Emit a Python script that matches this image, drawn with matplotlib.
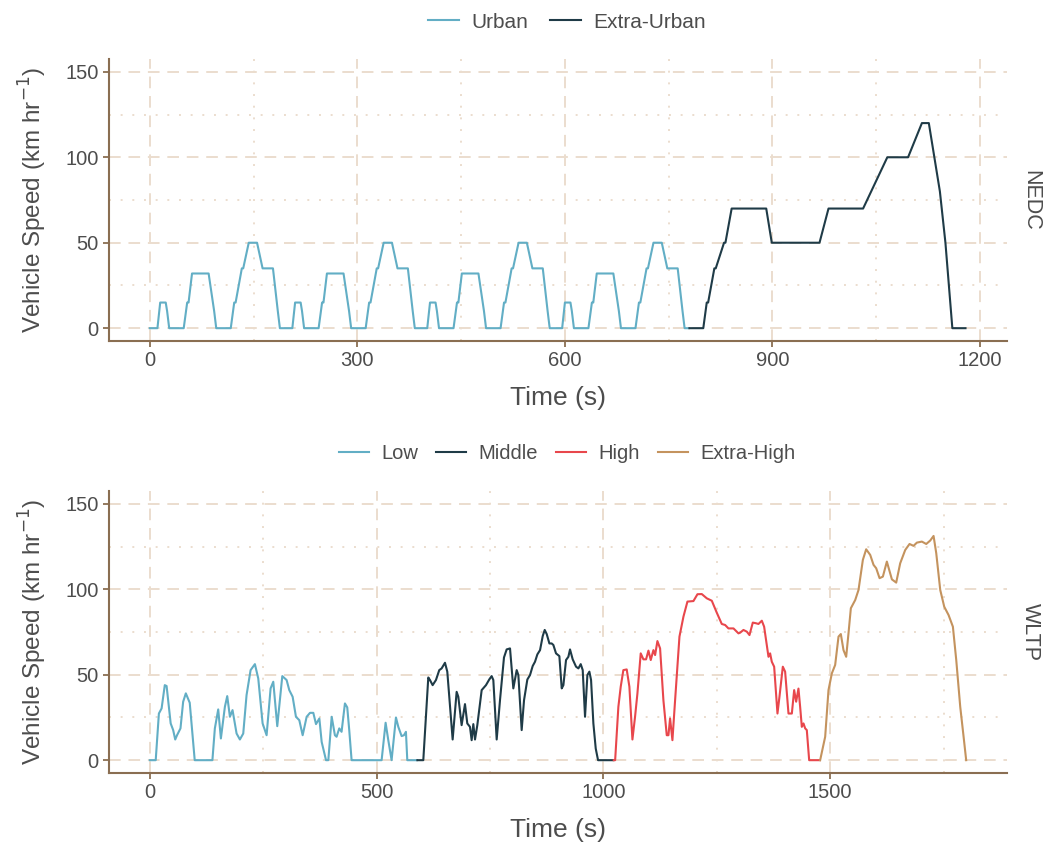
import matplotlib
matplotlib.use("Agg")
import matplotlib.pyplot as plt
from matplotlib.lines import Line2D

plt.rcParams['font.family'] = ['Liberation Sans', 'DejaVu Sans']

# ---------------- NEDC data ----------------
urban_time = [0, 11, 15, 23, 25, 28, 49, 54, 56, 61, 85, 93, 96, 117, 122, 124, 133, 135, 143, 155, 163, 178, 185, 188,
              195, 206, 210, 218, 220, 223, 244, 249, 251, 256, 280, 288, 291, 312, 317, 319, 328, 330, 338, 350, 358, 373, 380, 383,
              390, 401, 405, 413, 415, 418, 439, 444, 446, 451, 475, 483, 486, 507, 512, 514, 523, 525, 533, 545, 553, 568, 575, 578,
              585, 596, 600, 608, 610, 613, 634, 639, 641, 646, 670, 678, 681, 702, 707, 709, 718, 720, 728, 740, 748, 763, 770, 773, 779]
urban_speed = [0, 0, 15, 15, 10, 0, 0, 15, 15, 32, 32, 10, 0, 0, 15, 15, 35, 35, 50, 50, 35, 35, 10, 0,
               0, 0, 15, 15, 10, 0, 0, 15, 15, 32, 32, 10, 0, 0, 15, 15, 35, 35, 50, 50, 35, 35, 10, 0,
               0, 0, 15, 15, 10, 0, 0, 15, 15, 32, 32, 10, 0, 0, 15, 15, 35, 35, 50, 50, 35, 35, 10, 0,
               0, 0, 15, 15, 10, 0, 0, 15, 15, 32, 32, 10, 0, 0, 15, 15, 35, 35, 50, 50, 35, 35, 10, 0, 0]

extra_urban_time = [780, 800, 805, 807, 816, 818, 830, 832, 841, 891, 899, 968, 981, 1031, 1066, 1096, 1116, 1126,
                    1142, 1150, 1160, 1179]
extra_urban_speed = [0, 0, 15, 15, 35, 35, 50, 50, 70, 70, 50, 50, 70, 70, 100, 100, 120, 120,
                     80, 50, 0, 0]

# ---------------- WLTP data ----------------
low_time = [0, 13, 20, 26, 33, 37, 46, 51.5, 56, 60, 67.6, 73.5, 79.4, 88, 99, 138, 143.4, 150.8, 156.7, 165.5,
            170.7, 176.6, 182.4, 191.3, 198.6, 206, 213.3, 222.2, 231.7, 239.1, 248.7, 257.5, 266.3, 272.2, 281,
            292.1, 301.6, 307.5, 314.9, 322.2, 329.6, 337, 345.8, 353.2, 360.5, 366.4, 373.8, 378.9, 388.5, 393.6,
            401, 408.1, 411.8, 417.7, 422.8, 430.2, 435.3, 439.7, 444.9, 511.1, 519.9, 525.8, 533.1, 542.7, 547.9,
            555.2, 560.3, 564.7, 567.7, 589]
low_speed = [0, 0, 27.3, 30.3, 43.9, 43.4, 21.5, 17.6, 12.1, 14.6, 18.6, 34.2, 39.1, 33.6, 0, 0, 18.6, 29.7, 12.7, 31.2,
             37.5, 25.4, 29.3, 15.6, 12.1, 15.6, 38.1, 52.7, 56.2, 47.8, 21.5, 14.6, 42, 45.9, 19.9,
             49.2, 46.9, 41, 37.1, 25.4, 23.4, 14.6, 25.4, 27.7, 27.7, 21.1, 24.4, 10.7, 0, 0,
             25.4, 14.6, 13.7, 18.6, 16.6, 33.2, 30.9, 17.6, 0, 0, 21.9, 11.7, 0, 25, 19.5,
             14.1, 14.6, 16.6, 0, 0]

middle_time = [590, 603, 614, 617.7, 623.6, 630.9, 638.2, 643.4, 650.8, 655.9, 667.7, 676.5, 680.2, 687.5, 694.9,
               700, 705.9, 709.6, 713.3, 717, 722.1, 731.7, 741.2, 748.6, 753.7, 757.4, 764.8, 772.1, 780.9, 786.8,
               794.2, 801.5, 808.9, 812.6, 819.9, 825.1, 832.4, 838.3, 844.2, 849.3, 854.5, 860.4, 866.3, 870.7,
               875.1, 881, 886.1, 889.8, 895.6, 903, 908.2, 911.9, 917.7, 922.9, 926.5, 932.4, 939.8, 945, 950.1,
               954.5, 959.6, 964.8, 969.2, 972.9, 978, 983.2, 988.3, 1022]
middle_speed = [0, 0, 48.4, 46.9, 43.9, 46.9, 52.7, 53.7, 57, 51.8, 12.1, 40, 37.1, 20.5, 32.8,
                21.5, 19.5, 11.7, 21.1, 12.1, 20.5, 41, 43.9, 47.3, 49.2, 46.9, 12.1, 35.1, 60.1, 64.8,
                65.4, 42, 52.7, 49.8, 17.6, 35.1, 47.2, 49.8, 55.1, 57.6, 61.9, 64.4, 72.6, 76.2,
                73.8, 68.3, 68.3, 67.4, 62.5, 60.9, 42, 43.9, 58.6, 60.5, 64.8, 59, 54.7, 53.7, 56.2,
                52.7, 25.4, 49.8, 51.8, 46.9, 21.5, 6.8, 0, 0]

high_time = [1023, 1026, 1033.1, 1038.3, 1044.1, 1051.5, 1057.4, 1064.1, 1069.9, 1075.1, 1082.4, 1088.3, 1094.2,
             1099.4, 1104.5, 1110.4, 1114.1, 1119.2, 1125.1, 1132.4, 1139.8, 1143.5, 1147.1, 1152.3, 1158.2,
             1167.8, 1176.6, 1185.4, 1198.6, 1207.5, 1217, 1228.1, 1239.1, 1250.1, 1261.1, 1268.5, 1275.8,
             1286.9, 1297.9, 1301.6, 1308.9, 1316.3, 1322.2, 1329.5, 1336.9, 1342, 1349.4, 1354.5, 1364.1,
             1367.7, 1371.4, 1376.6, 1383.9, 1388.3, 1395.7, 1400.8, 1408.2, 1415.6, 1420.7, 1425.1, 1430.2,
             1433.9, 1437.6, 1441.3, 1445, 1448.6, 1453.8, 1477]
high_speed = [0, 0, 31.2, 43, 52.7, 53.1, 43, 12.1, 25.4, 39, 62.5, 59, 59,
              64.1, 58.6, 64.4, 61.5, 69.7, 65.4, 35.1, 14.6, 14.6, 24.4, 11.7, 35.1,
              72.3, 84, 92.8, 93.1, 97.1, 97.2, 94.7, 93.3, 86.3, 79.7, 79.1, 77.1,
              77.1, 74.2, 74.6, 76.2, 75.2, 73.2, 80.5, 80.1, 79.7, 81.6, 78.1, 60.5,
              62.5, 57.6, 54.7, 27.3, 37.1, 54.7, 51.8, 27.3, 27.3, 41, 34.2, 41.9,
              31.2, 19.5, 21.5, 18.6, 17.6, 0, 0]

extra_high_time = [1478, 1489.1, 1496.4, 1503.8, 1511.1, 1518.5, 1523.6, 1529.5, 1535.4, 1540.5, 1545.7, 1555.3,
                   1562.6, 1572.2, 1579.5, 1588.4, 1595.7, 1601.6, 1609, 1616.3, 1625.1, 1630.3, 1636.2, 1645.7,
                   1654.5, 1665.6, 1675.1, 1683.9, 1691.3, 1702.3, 1711.9, 1720.7, 1728.1, 1734, 1742.8, 1751.6,
                   1761.2, 1770.7, 1778.1, 1786.9, 1794.3, 1800]
extra_high_speed = [0, 13.7, 41, 50.8, 55.7, 72.3, 73.8, 64.4, 60.5, 74.2, 88.9, 93.7,
                    99.6, 117.2, 123.4, 120.1, 114.3, 112.3, 106.5, 107.4, 116.2, 111.3, 105.8, 103.9,
                    115.2, 123, 126.5, 125.4, 127.3, 127.9, 126.5, 128.5, 131.2, 121.1, 99.6, 89.8,
                    84.9, 78.1, 58.6, 31.2, 13.7, 0]

nedc_labels = ["Urban", "Extra-Urban"]
wltp_labels = ["Low", "Middle", "High", "Extra-High"]
y_ticks = [0, 50, 100, 150]
nedc_x_ticks = [0, 300, 600, 900, 1200]
wltp_x_ticks = [0, 500, 1000, 1500]

# ---------------- style ----------------
C_BLUE = "#62AEC5"
C_DARK = "#1F3B47"
C_RED = "#E8474C"
C_TAN = "#C4935E"
GRID = "#EBDDCE"
AXC = "#8A6E52"
TXT = "#4D4D4D"

fig = plt.figure(figsize=(10.46, 8.44), dpi=100)
W, H = 1046, 844


def frac(x0, y0, x1, y1):
    return [x0 / W, 1 - y1 / H, (x1 - x0) / W, (y1 - y0) / H]


def style_axes(ax, xlim, xticks, xminor):
    ax.set_xlim(*xlim)
    ax.set_ylim(-7.5, 157.5)
    ax.set_xticks(xticks)
    ax.set_xticks(xminor, minor=True)
    ax.set_yticks(y_ticks)
    ax.set_yticks([25, 75, 125], minor=True)
    ax.grid(which="major", color=GRID, linestyle=(0, (6, 4)), linewidth=1.4)
    ax.grid(which="minor", color=GRID, linestyle=(0, (1, 5)), linewidth=1.4)
    ax.set_axisbelow(True)
    for s in ["top", "right"]:
        ax.spines[s].set_visible(False)
    for s in ["left", "bottom"]:
        ax.spines[s].set_color(AXC)
        ax.spines[s].set_linewidth(1.5)
    ax.tick_params(which="major", length=4.5, width=1.3, color=AXC, labelcolor=TXT, labelsize=14.5, pad=3)
    ax.tick_params(which="minor", length=0)
    ax.set_xlabel("Time (s)", fontsize=19, color=TXT, labelpad=11)
    ax.set_ylabel(r"Vehicle Speed (km hr$^{-1}$)", fontsize=17.5, color=TXT, labelpad=12)


LW = 1.5
# Top panel: NEDC
ax1 = fig.add_axes(frac(109, 59, 1007, 341))
ax1.plot(urban_time, urban_speed, color=C_BLUE, lw=LW)
ax1.plot(extra_urban_time, extra_urban_speed, color=C_DARK, lw=LW)
style_axes(ax1, (-59, 1239), nedc_x_ticks, [150, 450, 750, 1050])
ax1.text(1.026, 0.5, "NEDC", transform=ax1.transAxes, rotation=-90, va="center", ha="center",
         fontsize=15.5, color=TXT)
h1 = [Line2D([], [], color=c, lw=LW) for c in [C_BLUE, C_DARK]]
fig.legend(h1, nedc_labels, loc="center", bbox_to_anchor=(567 / W, 1 - 22 / H), ncol=2, frameon=False,
           fontsize=15, handlelength=1.5, columnspacing=1.0, handletextpad=0.6, labelcolor=TXT)

# Bottom panel: WLTP
ax2 = fig.add_axes(frac(109, 491, 1007, 773))
ax2.plot(low_time, low_speed, color=C_BLUE, lw=LW)
ax2.plot(middle_time, middle_speed, color=C_DARK, lw=LW)
ax2.plot(high_time, high_speed, color=C_RED, lw=LW)
ax2.plot(extra_high_time, extra_high_speed, color=C_TAN, lw=LW)
style_axes(ax2, (-90, 1890), wltp_x_ticks, [250, 750, 1250, 1750])
ax2.text(1.026, 0.5, "WLTP", transform=ax2.transAxes, rotation=-90, va="center", ha="center",
         fontsize=15.5, color=TXT)
h2 = [Line2D([], [], color=c, lw=LW) for c in [C_BLUE, C_DARK, C_RED, C_TAN]]
fig.legend(h2, wltp_labels, loc="center", bbox_to_anchor=(567 / W, 1 - 454 / H), ncol=4, frameon=False,
           fontsize=14.5, handlelength=1.5, columnspacing=0.9, handletextpad=0.6, labelcolor=TXT)

fig.savefig("out.png", dpi=100)
